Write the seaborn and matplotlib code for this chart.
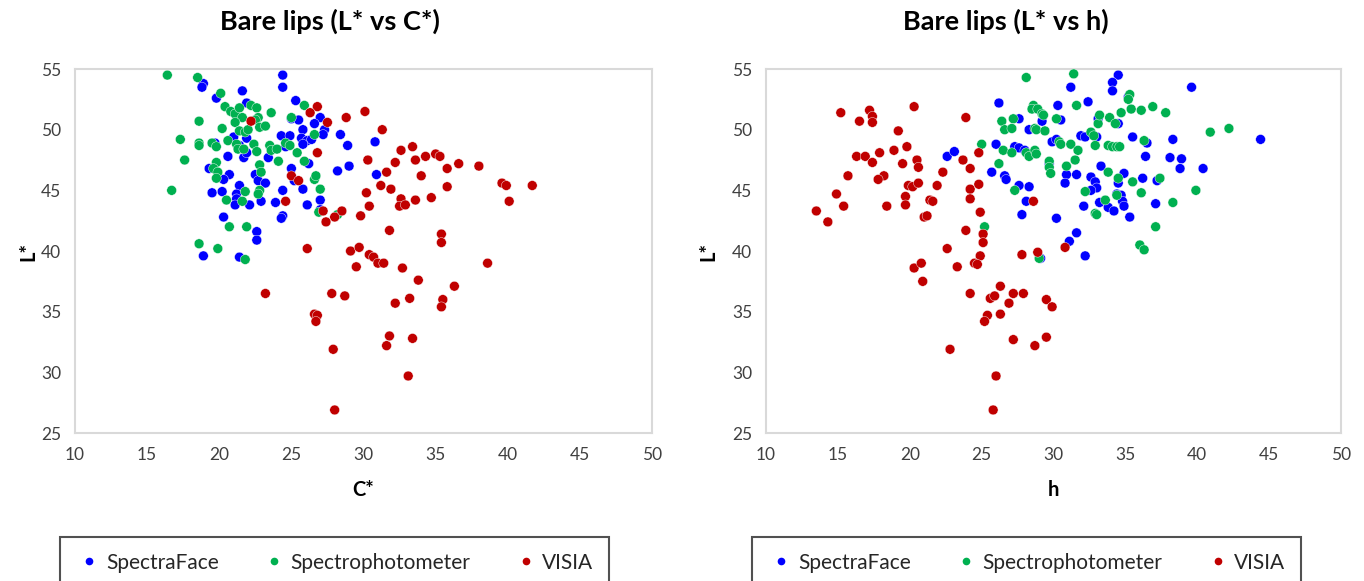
import matplotlib
matplotlib.use('Agg')
import pandas as pd
import matplotlib.pyplot as plt
import seaborn as sns
from matplotlib.lines import Line2D

# ============================================================
# Estilo
# ============================================================
sns.set_theme(style='white')
plt.rcParams['font.family'] = ['Lato', 'DejaVu Sans']

DEVICES = ['SpectraFace', 'Spectrophotometer', 'VISIA']
PALETTE = {'SpectraFace': '#0000FF', 'Spectrophotometer': '#00B050', 'VISIA': '#C00000'}
FRAME = '#D9D9D9'

# ============================================================
# Datos: panel L* vs C*
# ============================================================
c_sf = [18.9, 18.8, 21.6, 19.8, 21.9, 21.0, 21.9, 21.4, 19.7, 20.6, 21.7, 21.9, 19.3, 20.7, 20.3,
        21.4, 19.5, 20.2, 21.2, 21.2, 21.1, 22.1, 20.3, 18.9, 21.4,
        24.4, 24.4, 25.3, 25.0, 25.5, 27.0, 26.6, 25.8, 27.3, 27.2, 24.3, 24.9, 25.7, 26.1, 26.4,
        28.4, 25.8, 28.9, 24.6, 23.4, 26.2, 29.0, 25.0, 28.2, 22.5, 22.7, 23.2, 25.2, 25.8, 24.4,
        22.9, 23.9, 26.1, 27.0, 27.0, 24.4, 24.3, 22.6, 22.6, 30.8, 30.9]
c_sf_l = [53.8, 53.5, 53.2, 52.6, 52.2, 49.4, 49.3, 48.7, 48.9, 47.8, 47.7, 48.1, 46.8, 46.3, 45.9,
          45.4, 44.8, 44.9, 44.7, 44.3, 43.8, 43.8, 42.8, 39.6, 39.5,
          54.5, 53.5, 52.4, 50.9, 50.8, 51.0, 50.5, 50.0, 50.0, 49.6, 49.5, 49.5, 49.3, 49.1, 49.2,
          49.6, 48.8, 48.7, 48.6, 47.7, 47.2, 47.0, 46.8, 46.6, 46.3, 45.8, 45.6, 45.8, 45.1, 45.0,
          44.1, 44.0, 43.8, 44.2, 43.4, 42.9, 42.7, 41.6, 40.9, 49.0, 46.3]

c_sp = [16.4, 18.5, 20.1, 18.6, 20.4, 20.8, 21.1, 21.4, 21.6, 20.2, 21.1, 21.4, 21.8, 22.0, 17.3,
        18.6, 18.6, 19.5, 19.8, 20.6, 21.2, 21.3, 21.7, 17.6, 19.8, 19.6, 19.9, 19.8, 16.7, 21.8,
        20.5, 21.6, 20.7, 21.9, 18.6, 19.9, 21.8,
        22.2, 22.6, 25.9, 23.6, 25.0, 22.7, 22.5, 22.8, 23.2, 26.6, 22.4, 22.6, 23.5, 23.6, 24.0,
        24.6, 24.9, 25.4, 24.1, 25.9, 22.8, 22.9, 26.6, 26.7, 27.0, 22.8, 22.7, 26.9, 28.2]
c_sp_l = [54.5, 54.3, 53.0, 50.7, 51.9, 51.5, 51.3, 51.8, 51.0, 50.1, 50.6, 49.9, 49.8, 50.0, 49.2,
          48.9, 48.7, 48.9, 48.6, 49.1, 48.8, 48.4, 48.4, 47.5, 47.3, 46.8, 46.5, 46.0, 45.0, 44.9,
          44.2, 44.1, 42.0, 42.0, 40.6, 40.2, 39.3,
          52.0, 51.8, 52.0, 51.4, 51.0, 51.0, 50.8, 50.2, 50.3, 49.6, 48.8, 48.2, 48.7, 48.3, 48.4,
          48.9, 48.7, 48.1, 47.4, 47.4, 47.1, 46.5, 45.9, 46.2, 45.1, 45.0, 44.7, 43.2, 43.0]

c_vi = [22.2, 25.0, 25.5, 24.6, 26.8, 26.3, 27.5, 28.8, 30.1, 31.3, 26.8, 32.6, 33.4, 30.3, 32.2,
        33.6, 34.3, 35.0, 35.3, 35.8, 36.6, 38.0, 31.6, 34.0, 31.2, 31.9, 35.8, 30.2, 32.6, 32.5,
        32.9, 33.6, 34.7, 30.4, 29.8, 31.8, 35.4, 35.4, 28.5, 28.0, 27.4, 27.2, 26.1, 29.1, 29.7,
        30.4, 30.7, 31.0, 31.4, 29.5, 32.7, 38.6, 33.8, 36.3, 33.2, 32.2, 35.5, 35.4, 31.8, 31.6,
        33.4, 33.1, 23.2, 27.8, 28.7, 26.6, 26.8, 26.7, 27.9, 28.0, 39.6, 39.9, 40.1, 41.7]
c_vi_l = [50.7, 46.2, 45.8, 44.1, 51.9, 51.4, 50.6, 51.0, 51.5, 50.0, 48.1, 48.3, 48.6, 47.5, 47.3,
          47.5, 47.8, 48.0, 47.8, 46.8, 47.2, 47.0, 46.5, 46.2, 45.4, 45.1, 45.3, 44.8, 44.3, 43.7,
          43.8, 44.2, 44.4, 43.7, 42.9, 41.7, 41.4, 40.7, 43.3, 42.8, 42.4, 43.3, 40.2, 40.0, 40.3,
          39.7, 39.5, 39.0, 39.0, 38.7, 38.6, 39.0, 37.6, 37.1, 36.1, 35.7, 36.0, 35.4, 33.0, 32.2,
          32.8, 29.7, 36.5, 36.5, 36.3, 34.8, 34.7, 34.2, 31.9, 26.9, 45.6, 45.4, 44.1, 45.4]

# ============================================================
# Datos: panel L* vs h
# ============================================================
h_sf = [22.6, 23.1, 34.5, 34.1, 34.1, 31.2, 26.2, 30.3, 32.4, 27.6, 29.2, 30.5, 33.1, 34.5, 28.3,
        26.0, 27.3, 27.6, 28.0, 29.9, 30.2, 31.9, 32.2, 33.0, 35.5, 25.7, 26.6, 26.7, 27.6, 28.3,
        29.7, 30.9, 30.8, 31.6, 33.3, 32.6, 32.9, 33.0, 34.9, 34.5, 36.2, 32.6, 34.4, 34.7, 34.8,
        34.9, 33.2, 32.1, 33.8, 34.2, 35.3, 28.1, 27.8, 30.2, 31.6, 31.1, 32.2, 36.4, 35.2, 39.6,
        38.3, 36.5, 44.4, 38.1, 38.9, 38.8, 40.4, 37.2, 37.1, 29.1]
h_sf_l = [47.8, 48.2, 54.5, 53.9, 53.2, 53.5, 52.2, 52.0, 52.3, 50.9, 50.7, 50.8, 50.9, 50.5, 50.0,
          48.8, 48.6, 48.5, 48.3, 49.0, 49.2, 49.5, 49.4, 49.4, 49.4, 46.5, 46.2, 45.9, 45.4, 45.3,
          47.2, 46.3, 45.6, 46.3, 47.0, 46.1, 45.7, 45.2, 46.4, 45.6, 46.0, 45.0, 44.7, 44.6, 44.1,
          43.7, 44.0, 43.7, 43.6, 43.3, 42.8, 44.1, 43.0, 42.7, 41.5, 40.8, 39.6, 47.8, 52.7, 53.5,
          49.2, 48.9, 49.2, 47.7, 47.6, 46.8, 46.8, 45.8, 43.9, 39.4]

h_sp = [28.1, 31.4, 31.6, 28.6, 28.5, 28.9, 29.2, 29.3, 26.4, 27.2, 26.6, 27.1, 28.7, 28.8, 29.4,
        30.2, 33.1, 33.2, 33.9, 34.3, 34.7, 35.3, 35.2, 35.4, 36.1, 32.6, 32.8, 30.4, 30.5, 31.2,
        32.9, 33.8, 34.1, 34.4, 34.6, 25.0, 26.5, 27.1, 28.1, 28.3, 28.7, 28.8, 31.7, 36.3, 26.2,
        29.7, 29.7, 29.8, 30.9, 31.5, 33.8, 34.5, 35.5, 27.3, 32.2, 33.6, 34.4, 36.1, 32.9, 33.0,
        25.2, 36.0, 36.3, 29.0, 36.9, 37.8, 40.9, 42.2, 37.4, 38.3, 39.9, 37.1]
h_sp_l = [54.3, 54.6, 52.0, 52.0, 51.7, 51.7, 51.3, 51.2, 50.7, 50.9, 50.0, 50.1, 50.1, 50.0, 49.9,
          50.9, 50.5, 51.2, 51.0, 50.5, 51.4, 52.9, 52.5, 51.7, 51.6, 49.8, 49.5, 49.0, 48.8, 48.8,
          48.7, 48.7, 48.6, 48.6, 48.6, 48.8, 48.3, 48.1, 48.1, 47.8, 48.3, 48.0, 48.3, 49.1, 47.2,
          47.4, 46.9, 46.4, 47.0, 47.5, 46.5, 46.0, 45.7, 45.0, 44.9, 44.2, 44.6, 44.8, 43.1, 43.0,
          42.0, 40.5, 40.1, 39.4, 51.9, 51.4, 49.8, 50.1, 46.0, 44.0, 45.0, 42.0]

h_vi = [15.2, 17.2, 17.4, 17.4, 16.5, 20.3, 23.9, 19.2, 16.3, 16.9, 17.9, 18.9, 19.8, 17.4, 20.5,
        20.6, 19.5, 23.7, 22.3, 24.2, 15.7, 18.2, 17.8, 19.9, 20.2, 20.6, 21.9, 24.2, 14.9, 19.7,
        21.4, 21.6, 24.2, 13.5, 15.4, 18.4, 19.7, 14.3, 21.0, 21.2, 23.9, 22.6,
        24.8, 24.8, 24.9, 28.6, 25.1, 25.1, 27.8, 28.9, 30.8, 24.9,
        24.5, 24.7, 20.3, 20.8, 23.3, 20.9, 26.3, 24.2, 25.6, 25.9, 27.2, 27.9, 26.9, 29.5, 29.9,
        25.4, 25.2, 26.3, 22.8, 27.2, 28.7, 29.5, 26.0, 25.8]
h_vi_l = [51.4, 51.6, 51.1, 50.6, 50.7, 51.9, 51.0, 49.9, 47.8, 47.8, 48.1, 48.3, 48.6, 47.3, 47.5,
          46.9, 47.2, 47.5, 46.5, 46.8, 46.2, 46.2, 45.9, 45.4, 45.3, 45.6, 45.4, 45.1, 44.7, 44.5,
          44.2, 44.1, 44.3, 43.3, 43.7, 43.7, 43.8, 42.4, 42.8, 42.9, 41.7, 40.2,
          48.1, 45.5, 43.2, 44.1, 41.4, 40.7, 39.7, 39.9, 40.3, 39.6,
          39.0, 38.9, 38.6, 39.0, 38.7, 37.5, 37.1, 36.5, 36.1, 36.3, 36.5, 36.5, 35.7, 36.0, 35.4,
          34.7, 34.2, 34.8, 31.9, 32.7, 32.2, 32.9, 29.7, 26.9]

X_TICKS = [10, 15, 20, 25, 30, 35, 40, 45, 50]
Y_TICKS = [25, 30, 35, 40, 45, 50, 55]


def build_frame(xs, ys):
    parts = []
    for device, x, y in zip(DEVICES, xs, ys):
        parts.append(pd.DataFrame({'x': x, 'L': y, 'device': device}))
    return pd.concat(parts, ignore_index=True)


def style_axis(ax, title, xlabel, title_x, ylabel_x):
    ax.set_xlim(10, 50)
    ax.set_ylim(25, 55)
    ax.set_xticks(X_TICKS)
    ax.set_yticks(Y_TICKS)
    for side in ['top', 'right', 'bottom', 'left']:
        ax.spines[side].set_visible(True)
        ax.spines[side].set_color(FRAME)
        ax.spines[side].set_linewidth(1.5)
    ax.tick_params(axis='both', direction='inout', length=8, width=1.2,
                   color='#BFBFBF', labelsize=12.5, labelcolor='#404040', pad=6)
    # en el original el titulo esta centrado sobre el area del grafico, no del eje
    ax.set_title(title, fontsize=19.5, fontweight='bold', pad=28, color='black', x=title_x)
    ax.set_xlabel(xlabel, fontsize=14.5, fontweight='bold', labelpad=12, color='black')
    ax.set_ylabel('L*', fontsize=14.5, fontweight='bold', color='black')
    ax.yaxis.set_label_coords(ylabel_x, 0.5)
    ax.grid(False)


def add_legend(ax, x0):
    handles = [Line2D([0], [0], marker='o', linestyle='none', markersize=5.5,
                      markerfacecolor=PALETTE[d], markeredgecolor='none', label=d)
               for d in DEVICES]
    leg = ax.legend(handles=handles, loc='upper left', ncol=3,
                    bbox_to_anchor=(x0, 1 - 537 / 581), bbox_transform=ax.figure.transFigure,
                    frameon=True, fancybox=False, fontsize=15, handletextpad=0.15,
                    borderpad=0.75, borderaxespad=0.0, handlelength=1.3,
                    columnspacing=2.0)
    leg.get_frame().set_edgecolor('#262626')
    leg.get_frame().set_linewidth(1.5)
    return leg


fig = plt.figure(figsize=(13.64, 5.81), dpi=100)
ax1 = fig.add_axes([0.0550, 0.2547, 0.4230, 0.6265])
ax2 = fig.add_axes([0.5616, 0.2547, 0.4216, 0.6265])

df_c = build_frame([c_sf, c_sp, c_vi], [c_sf_l, c_sp_l, c_vi_l])
df_h = build_frame([h_sf, h_sp, h_vi], [h_sf_l, h_sp_l, h_vi_l])

panels = [(ax1, df_c, 'Bare lips (L* vs C*)', 'C*', 0.442, -0.064),
          (ax2, df_h, 'Bare lips (L* vs h)', 'h', 0.417, -0.083)]
for ax, df, title, xlabel, title_x, ylabel_x in panels:
    sns.scatterplot(data=df, x='x', y='L', hue='device', hue_order=DEVICES,
                    palette=PALETTE, s=50, linewidth=0.3, edgecolor='white',
                    legend=False, ax=ax, zorder=3)
    style_axis(ax, title, xlabel, title_x, ylabel_x)

add_legend(ax1, 60 / 1364)
add_legend(ax2, 752 / 1364)

fig.savefig('out.png', dpi=100)
